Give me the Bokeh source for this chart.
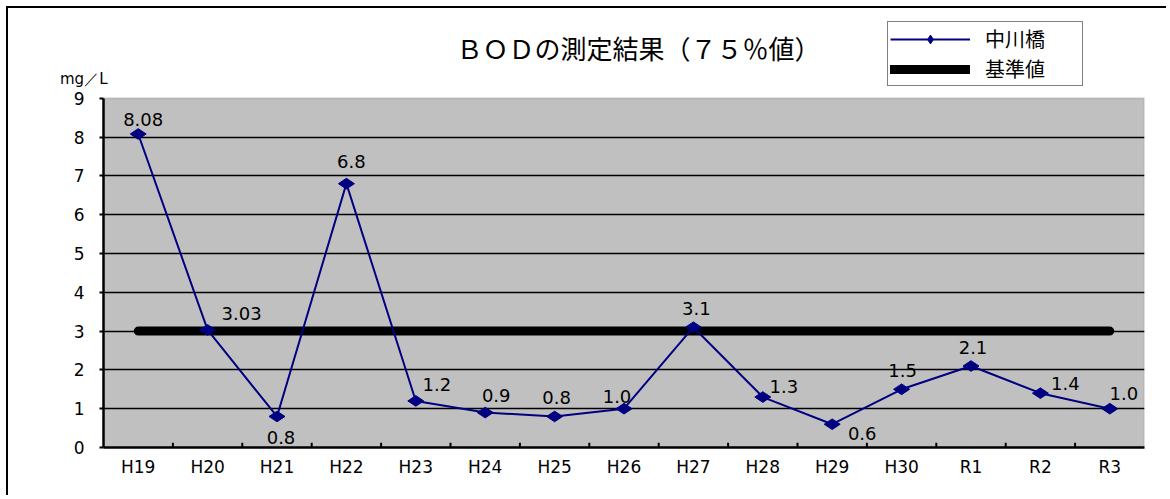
import math
from bokeh.plotting import figure
from bokeh.models import (Legend, LegendItem, Label, FactorRange, Range1d,
                          FixedTicker, ColumnDataSource, BoxAnnotation, LinearAxis)
from bokeh.transform import dodge
from bokeh.core.properties import value
from bokeh.embed import file_html
from bokeh.resources import INLINE

# ---- data ----
years = ["H19", "H20", "H21", "H22", "H23", "H24", "H25", "H26",
         "H27", "H28", "H29", "H30", "R1", "R2", "R3"]
bod = [8.08, 3.03, 0.8, 6.8, 1.2, 0.9, 0.8, 1.0, 3.1, 1.3, 0.6, 1.5, 2.1, 1.4, 1.0]
bod_labels = ["8.08", "3.03", "0.8", "6.8", "1.2", "0.9", "0.8", "1.0",
              "3.1", "1.3", "0.6", "1.5", "2.1", "1.4", "1.0"]
standard = [3, 3, 3, 3, 3, 3, 3, 3, 3, 3, 3, 3, 3, 3, 3]
y_ticks = [0, 1, 2, 3, 4, 5, 6, 7, 8, 9]
title_text = "ＢＯＤの測定結果（７５％値）"
unit_text = "mg／L"
series_name = "中川橋"
standard_name = "基準値"

# label offsets (pixels) for the data labels
label_dx = [5, 34, 4, 5, 21, 11, 2, -7, 3, 21, 30, 1, 2, 25, 14]
label_dy = [-14, -16, 21, -22, -16, -17, -19, -12, -19, -11, 9, -19, -19, -10, -15]

CJK = "Noto Sans CJK JP"
LATIN = "DejaVu Sans"
NAVY = "#000080"

# layout: plot area 439 px tall from frame bottom to canvas top; 38.8 px per unit
FRAME_H = 439
PX_PER_UNIT = 38.8
y_top = FRAME_H / PX_PER_UNIT

p = figure(x_range=FactorRange(*years), y_range=Range1d(0, y_top),
           width=1160, height=489, output_backend="svg", toolbar_location=None,
           min_border_left=95, min_border_right=24, min_border_top=0,
           min_border_bottom=50)
p.styles = {"margin-left": "6px", "margin-top": "6px",
            "border-left": "2px solid black", "border-top": "2px solid black"}
p.title.text = ""

p.background_fill_color = "white"
p.border_fill_color = "white"
p.outline_line_color = None

# grey plot area 0..9 with grey top/right border
p.add_layout(BoxAnnotation(bottom=y_ticks[0], top=y_ticks[-1], fill_color="#C0C0C0",
                           fill_alpha=1, line_color="#808080", line_width=2,
                           level="image"))

# axes
p.xaxis.axis_line_width = 2.5
p.xaxis.axis_line_color = "black"
p.xaxis.major_tick_line_color = None
p.xaxis.major_tick_out = 0
p.xaxis.major_tick_in = 0
p.xaxis.minor_tick_line_color = None
p.xaxis.major_label_text_font = LATIN
p.xaxis.major_label_text_font_size = "17px"
p.xaxis.major_label_text_color = "black"
p.xaxis.major_label_standoff = 9

p.yaxis.ticker = FixedTicker(ticks=y_ticks)
p.yaxis.bounds = (y_ticks[0], y_ticks[-1])
p.yaxis.axis_line_width = 2.5
p.yaxis.axis_line_color = "black"
p.yaxis.major_tick_line_color = "black"
p.yaxis.major_tick_line_width = 2
p.yaxis.major_tick_out = 4
p.yaxis.major_tick_in = 0
p.yaxis.minor_tick_line_color = None
p.yaxis.major_label_text_font = LATIN
p.yaxis.major_label_text_font_size = "17px"
p.yaxis.major_label_text_color = "black"
p.yaxis.major_label_standoff = 15

# unit text "mg/L" drawn as a label-only axis stacked left of the value axis
unit_y = 9.49
unit_axis = LinearAxis(ticker=FixedTicker(ticks=[unit_y]),
                       major_label_overrides={unit_y: unit_text},
                       axis_line_color=None,
                       major_tick_line_color=None, minor_tick_line_color=None,
                       major_tick_out=0, major_tick_in=0, major_label_standoff=-37,
                       major_label_text_font=LATIN, major_label_text_font_size="15px",
                       major_label_text_color="black")
p.add_layout(unit_axis, "left")

p.xgrid.grid_line_color = None
p.ygrid.ticker = FixedTicker(ticks=y_ticks[1:-1])
p.ygrid.grid_line_color = "black"
p.ygrid.grid_line_width = 1.5

src = ColumnDataSource(dict(x=years, y=bod, t=bod_labels, dx=label_dx, dy=label_dy,
                            s=standard))

# inward ticks at category boundaries
tick_src = ColumnDataSource(dict(x=years[:-1]))
p.segment(x0=dodge("x", 0.5, range=p.x_range), x1=dodge("x", 0.5, range=p.x_range),
          y0=0, y1=0.12, source=tick_src, line_color="black", line_width=2)

std_r = p.line("x", "s", source=src, line_color="black", line_width=9,
               line_cap="round")
line_r = p.line("x", "y", source=src, line_color=NAVY, line_width=2)
pts_r = p.scatter("x", "y", source=src, marker="diamond", size=16, angle=math.pi / 2,
                  fill_color=NAVY, line_color=NAVY)

p.text("x", "y", text="t", source=src, x_offset="dx", y_offset="dy",
       text_font=value(LATIN), text_font_size="18px", text_color="black",
       text_align="center", text_baseline="middle")

p.add_layout(Label(x=535, y=400, x_units="screen", y_units="screen",
                   text=title_text, text_font=CJK, text_font_size="26px",
                   text_align="center", text_baseline="middle",
                   text_color="black"))

legend = Legend(items=[LegendItem(label=series_name, renderers=[line_r, pts_r]),
                       LegendItem(label=standard_name, renderers=[std_r])],
                location=(784, 361), label_text_font=CJK,
                label_text_font_size="20px", label_text_color="black",
                border_line_color="black", border_line_width=1.5,
                background_fill_color="white", background_fill_alpha=1,
                glyph_width=80, glyph_height=22, label_standoff=15,
                label_width=95, padding=2, spacing=1, margin=0)
p.add_layout(legend, "center")

open("out.html", "w").write(file_html(p, INLINE))
